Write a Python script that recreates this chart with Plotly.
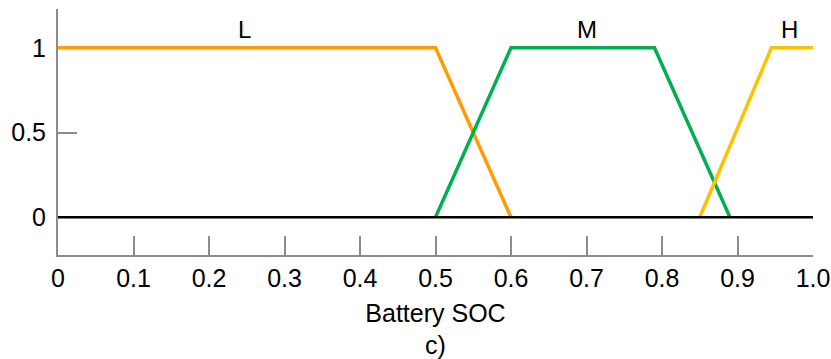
import plotly.graph_objects as go

# Membership functions for Battery SOC
L_x = [0.0, 0.5, 0.6]
L_y = [1, 1, 0]
M_x = [0.5, 0.6, 0.79, 0.89]
M_y = [0, 1, 1, 0]
H_x = [0.85, 0.945, 1.0]
H_y = [0, 1, 1]
base_x = [0.0, 1.0]
base_y = [0, 0]

labels = ["L", "M", "H"]
label_x = [0.247, 0.70, 0.969]
label_y = [1.11, 1.11, 1.11]

x_tickvals = [0, 0.1, 0.2, 0.3, 0.4, 0.5, 0.6, 0.7, 0.8, 0.9, 1.0]
x_ticktext = ["0", "0.1", "0.2", "0.3", "0.4", "0.5", "0.6", "0.7", "0.8", "0.9", "1.0"]
y_tickvals = [0, 0.5, 1]
y_ticktext = ["0", "0.5", "1"]

ORANGE = "#FF9B05"
GREEN = "#00B050"
YELLOW = "#FFC000"
GRAY = "#8C8C8C"
FONT = "Liberation Sans, Arial, sans-serif"

YR = [-0.2227, 1.2286]

fig = go.Figure()
fig.add_trace(go.Scatter(x=base_x, y=base_y, mode="lines",
                         line=dict(color="black", width=2.5), yaxis="y2",
                         hoverinfo="skip", showlegend=False))
fig.add_trace(go.Scatter(x=L_x, y=L_y, mode="lines",
                         line=dict(color=ORANGE, width=3.5), showlegend=False))
fig.add_trace(go.Scatter(x=M_x, y=M_y, mode="lines",
                         line=dict(color=GREEN, width=3.5), showlegend=False))
fig.add_trace(go.Scatter(x=H_x, y=H_y, mode="lines",
                         line=dict(color=YELLOW, width=3.5), showlegend=False))

for t, lx, ly in zip(labels, label_x, label_y):
    fig.add_annotation(x=lx, y=ly, text=t, showarrow=False,
                       font=dict(family=FONT, size=24, color="black"),
                       xanchor="center", yanchor="middle")

fig.update_layout(
    width=831, height=359,
    margin=dict(l=58, r=18, t=9, b=104, autoexpand=False),
    paper_bgcolor="white", plot_bgcolor="white",
    font=dict(family=FONT, color="black"),
    xaxis=dict(range=[0, 1], tickvals=x_tickvals, ticktext=x_ticktext,
               ticks="inside", ticklen=19, tickwidth=2, tickcolor=GRAY,
               showline=True, linecolor=GRAY, linewidth=2,
               showgrid=False, zeroline=False, automargin=False,
               tickfont=dict(family=FONT, size=25, color="black"),
               title=dict(text="Battery SOC<br>c)", standoff=14,
                          font=dict(family=FONT, size=25, color="black"))),
    yaxis=dict(range=YR, tickvals=y_tickvals, ticktext=y_ticktext,
               ticks="", showline=True, linecolor=GRAY, linewidth=2,
               showgrid=False, zeroline=False, automargin=False,
               ticklabelstandoff=5,
               tickfont=dict(family=FONT, size=25, color="black")),
    yaxis2=dict(range=YR, overlaying="y", side="left", anchor="x",
                tickvals=[0.5], ticks="inside", ticklen=19, tickwidth=2,
                tickcolor=GRAY, showticklabels=False, showline=False,
                showgrid=False, zeroline=False, automargin=False),
)

fig.write_html("out.html")
